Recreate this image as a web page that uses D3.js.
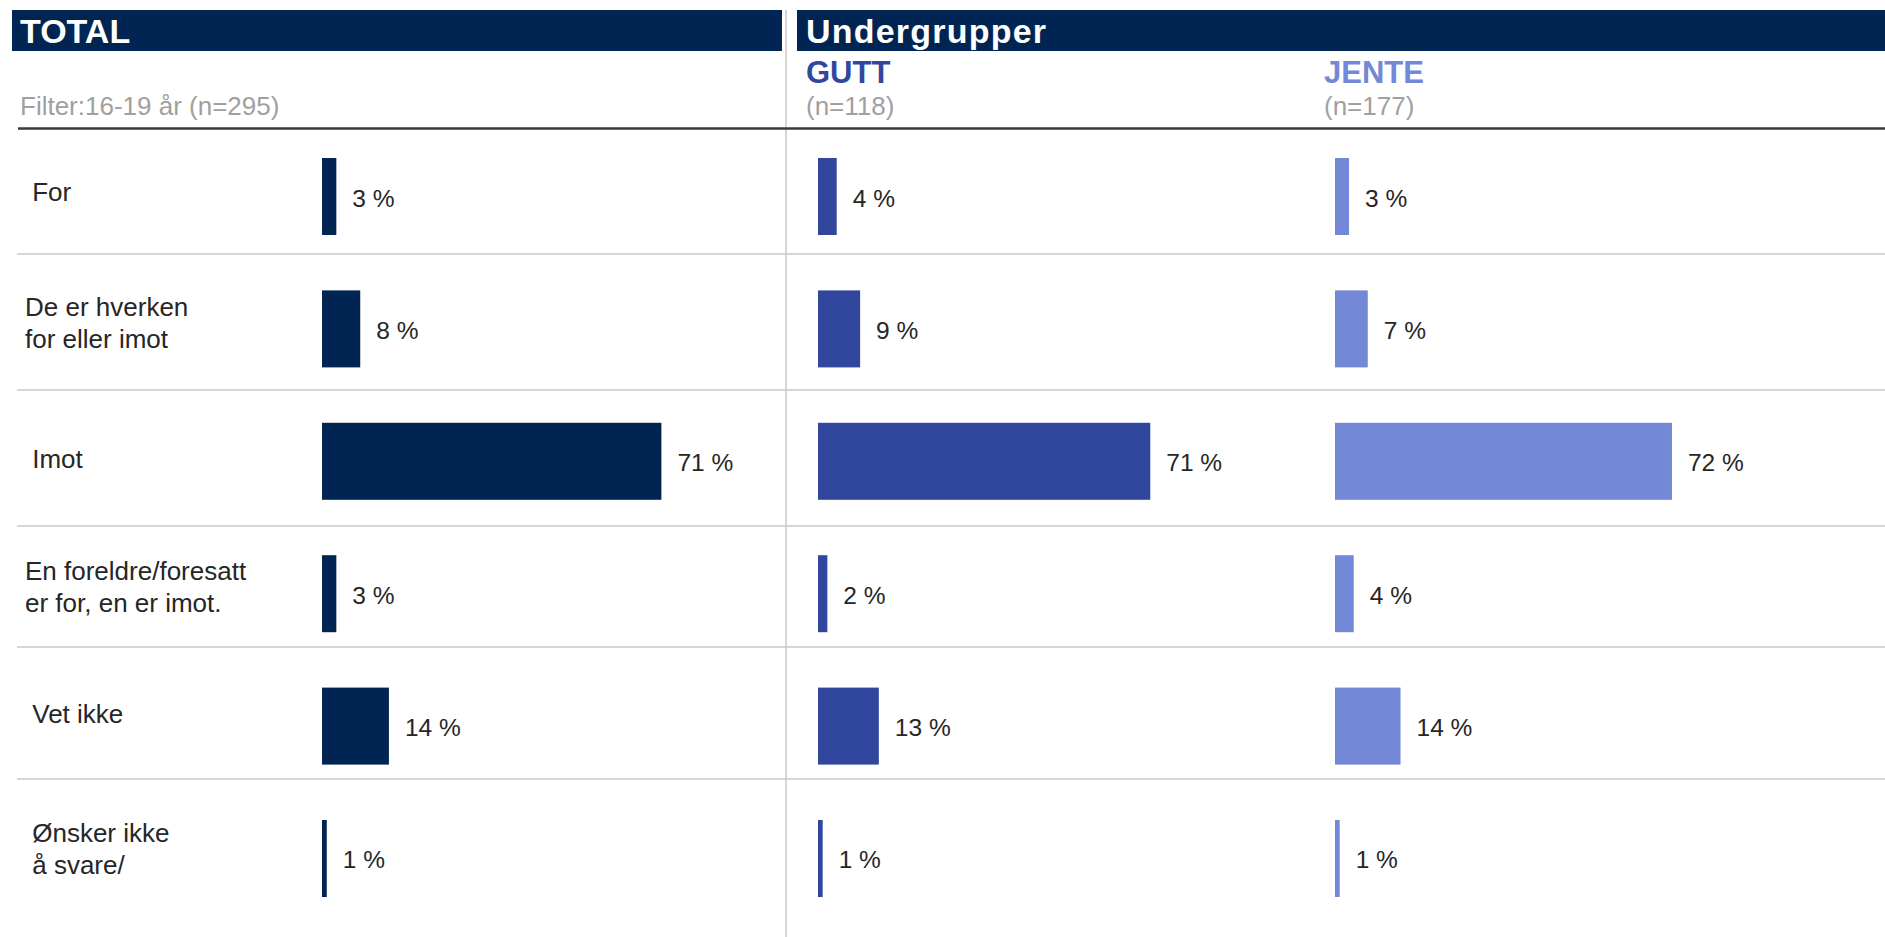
<!DOCTYPE html>
<html>
<head>
<meta charset="utf-8">
<script src="https://cdn.jsdelivr.net/npm/d3@7"></script>
<style>
  html, body { margin: 0; padding: 0; background: #fff; }
  svg { display: block; font-family: "Liberation Sans", Arial, sans-serif; }
  text { white-space: pre; }
</style>
</head>
<body>
<svg id="chart" width="1885" height="937"></svg>
<script>
// ---- data ----
const categories = [
  "For",
  "De er hverken for eller imot",
  "Imot",
  "En foreldre/foresatt er for, en er imot.",
  "Vet ikke",
  "Ønsker ikke å svare/"
];
const categoryLines = [
  [" For"],
  ["De er hverken", "for eller imot"],
  [" Imot"],
  ["En foreldre/foresatt", "er for, en er imot."],
  [" Vet ikke"],
  [" Ønsker ikke", " å svare/"]
];
const totalValues = [3, 8, 71, 3, 14, 1];
const guttValues  = [4, 9, 71, 2, 13, 1];
const jenteValues = [3, 7, 72, 4, 14, 1];

const groupNames = ["GUTT", "JENTE"];
const groupN = ["(n=118)", "(n=177)"];
const filterText = "Filter:16-19 år (n=295)";

// ---- layout ----
const W = 1885, H = 937;
const navy = "#012552", gutt = "#31479e", jente = "#7388d6";
const textDark = "#262626", textGray = "#a0a0a0", gridGray = "#c9c9c9";
const rowEdges = [128, 254, 390, 526, 647, 779, 917];

const svg = d3.select("#chart");

// header bars
svg.append("rect").attr("x", 12).attr("y", 10).attr("width", 770).attr("height", 41).attr("fill", navy);
svg.append("rect").attr("x", 797).attr("y", 10).attr("width", W - 797).attr("height", 41).attr("fill", navy);
svg.append("text").attr("x", 20).attr("y", 42.5).attr("fill", "#fff")
  .attr("font-size", 34).attr("font-weight", "bold").text("TOTAL");
svg.append("text").attr("x", 806).attr("y", 42.5).attr("fill", "#fff")
  .attr("font-size", 34).attr("font-weight", "bold")
  .attr("textLength", 240).attr("lengthAdjust", "spacing").text("Undergrupper");

// filter text
svg.append("text").attr("x", 20).attr("y", 115).attr("fill", textGray)
  .attr("font-size", 26).text(filterText);

// group headers
const groupX = [806, 1324];
const groupColor = [gutt, jente];
groupNames.forEach((g, i) => {
  svg.append("text").attr("x", groupX[i]).attr("y", 82.5).attr("fill", groupColor[i])
    .attr("font-size", 31).attr("font-weight", "bold").text(g);
  svg.append("text").attr("x", groupX[i]).attr("y", 115).attr("fill", textGray)
    .attr("font-size", 26).text(groupN[i]);
});

// vertical divider
svg.append("line").attr("x1", 786).attr("x2", 786).attr("y1", 10).attr("y2", H)
  .attr("stroke", gridGray).attr("stroke-width", 1.5);

// row separators
svg.append("g").selectAll("line").data(rowEdges.slice(1, -1)).join("line")
  .attr("x1", 17).attr("x2", W).attr("y1", d => d).attr("y2", d => d)
  .attr("stroke", gridGray).attr("stroke-width", 1.5);

// header underline
svg.append("line").attr("x1", 18).attr("x2", W).attr("y1", 128.5).attr("y2", 128.5)
  .attr("stroke", "#3a3a3a").attr("stroke-width", 2.5);

// category labels
const labG = svg.append("g");
categoryLines.forEach((lines, i) => {
  const c = (rowEdges[i] + rowEdges[i + 1]) / 2;
  const lh = 32;
  const first = c + 9.5 - (lines.length - 1) * lh / 2;
  const t = labG.append("text").attr("fill", textDark).attr("font-size", 26);
  lines.forEach((l, j) => {
    t.append("tspan").attr("x", 25).attr("y", first + j * lh).text(l);
  });
});

// band scale for bars
const y = d3.scaleBand().domain(categories).range([158, 897]).paddingInner(0.4184).paddingOuter(0);

function panel(values, x0, width, color) {
  const x = d3.scaleLinear().domain([0, 100]).range([x0, x0 + width]);
  const g = svg.append("g");
  g.selectAll("rect").data(values).join("rect")
    .attr("x", x(0))
    .attr("y", (d, i) => y(categories[i]))
    .attr("width", d => x(d) - x(0))
    .attr("height", y.bandwidth())
    .attr("fill", color);
  g.selectAll("text").data(values).join("text")
    .attr("x", d => x(d) + 16)
    .attr("y", (d, i) => y(categories[i]) + y.bandwidth() / 2 + 10)
    .attr("fill", textDark)
    .attr("font-size", 24.5)
    .text(d => d + " %");
}
panel(totalValues, 322, 478, navy);
panel(guttValues, 818, 468, gutt);
panel(jenteValues, 1335, 468, jente);
</script>
</body>
</html>
